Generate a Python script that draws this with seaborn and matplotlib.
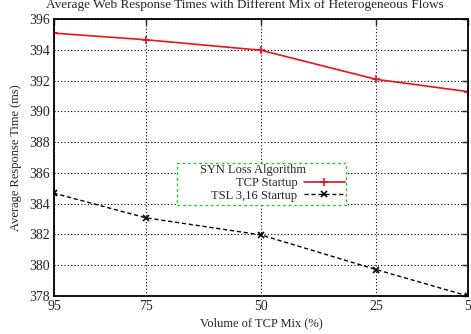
import matplotlib
matplotlib.use("Agg")
import matplotlib.pyplot as plt
from matplotlib.patches import Rectangle
import seaborn as sns
import pandas as pd

tcp_mix = [95, 75, 50, 25, 5]
tcp_startup = [395.08, 394.65, 393.97, 392.08, 391.28]
tsl_startup = [384.68, 383.08, 381.97, 379.72, 378.0]
tick_labels = ["95", "75", "50", "25", "5"]

sns.set_style("white")
plt.rcParams['font.family'] = ['Liberation Serif', 'DejaVu Serif']

fig = plt.figure(figsize=(4.71, 3.34), dpi=100)
ax = fig.add_axes([54/471, 1-296/334, (468-54)/471, (296-19)/334])

df = pd.DataFrame({"mix": tcp_mix, "tcp": tcp_startup, "tsl": tsl_startup})
sns.lineplot(data=df, x="mix", y="tcp", ax=ax, color="#e8141c", lw=1.2,
             marker="+", markersize=6, mew=1.2, mec="#e8141c", label="TCP Startup")
sns.lineplot(data=df, x="mix", y="tsl", ax=ax, color="black", lw=1.0,
             linestyle=(0, (3, 2)), marker="x", markersize=4, mew=1.2, mec="black",
             label="TSL 3,16 Startup")

ax.set_xlim(95, 5)
ax.set_ylim(378, 396)
ax.set_xticks(tcp_mix)
ax.set_xticklabels(tick_labels)
ax.set_yticks(range(378, 397, 2))
ax.grid(True, color="black", linestyle=(0, (1, 2)), lw=0.8)
ax.tick_params(direction="in", length=4, width=1, labelsize=10, top=True, right=True, pad=3)
for sp in ax.spines.values():
    sp.set_color("black")
    sp.set_linewidth(1.3)

ax.set_xlabel("Volume of TCP Mix (%)", fontsize=9, labelpad=3)
ax.set_ylabel("Average Response Time (ms)", fontsize=9, labelpad=5)
fig.text(0.52, 1 - 5/334, "Average Web Response Times with Different Mix of Heterogeneous Flows",
         ha="center", va="center", fontsize=9.5)

# legend entries, gnuplot style: text first, sample on the right
leg = ax.legend(loc="center", bbox_to_anchor=(0.541, 0.3845),
                markerfirst=False, fontsize=9, frameon=False,
                handlelength=3.3, handletextpad=0.5, labelspacing=0.05)
# key box and its title
ax.add_patch(Rectangle((0.2971, 0.3285), 0.408, 0.1516, transform=ax.transAxes,
                       fill=True, facecolor="white", edgecolor="#22cc22",
                       linestyle=(0, (2, 2)), lw=1.0, zorder=4))
ax.text(0.4807, 0.4549, "SYN Loss Algorithm", transform=ax.transAxes,
        ha="center", va="center", fontsize=9, zorder=5)

fig.savefig("out.png", dpi=100)
